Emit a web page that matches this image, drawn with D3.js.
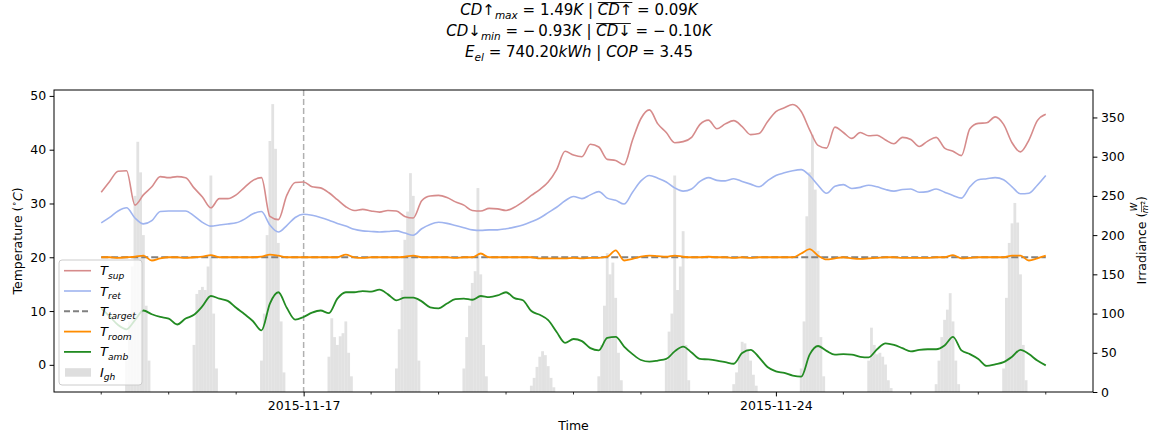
<!DOCTYPE html>
<html>
<head>
<meta charset="utf-8">
<script src="https://cdn.jsdelivr.net/npm/d3@7"></script>
<style>
  body { margin: 0; background: #fff; }
  text { font-family: "DejaVu Sans"; }
</style>
</head>
<body>
<script>
// ---- data (3-hourly samples from 2015-11-14 00:00 to 2015-11-28 00:00) ----
var T_SUP = [32.1,34.1,36.0,36.1,29.7,31.6,33.1,35.0, 34.8,35.0,34.8,32.9,31.2,29.2,30.9,30.9,
  31.6,33.0,34.3,34.8,27.6,27.0,31.5,33.9, 34.0,33.1,32.9,32.0,30.7,29.4,28.7,28.9,
  28.6,28.4,28.7,28.6,27.6,27.3,30.5,31.4, 31.5,31.1,30.3,29.7,28.7,28.6,29.1,29.0,
  28.7,29.3,30.3,31.5,32.6,34.0,36.3,39.7, 39.0,38.7,41.0,40.5,38.2,38.0,37.2,41.8,
  45.8,47.4,44.8,43.2,41.3,41.5,42.3,44.7, 45.5,43.9,44.8,45.4,44.3,42.8,43.0,45.2,
  47.1,47.8,48.4,47.1,43.7,40.8,40.3,44.2, 43.2,42.1,43.2,42.6,42.7,41.8,41.1,42.3,
  41.9,40.6,41.6,42.3,40.3,39.7,38.9,43.9, 44.9,45.0,46.1,44.7,41.3,39.6,41.8,45.4,
  46.6];
var T_RET = [26.4,27.4,28.6,29.2,27.3,26.2,26.8,28.5, 28.6,28.6,28.6,27.7,26.5,25.8,26.0,26.2,
  26.4,27.1,28.1,28.5,26.0,24.7,25.9,27.4, 28.0,27.8,27.4,26.9,26.3,25.8,25.2,24.9,
  24.8,24.7,24.8,24.9,24.5,24.1,25.3,26.1, 26.5,26.3,25.9,25.5,25.1,25.0,25.1,25.1,
  25.3,25.6,26.0,26.6,27.3,28.3,29.3,30.5, 31.3,30.9,31.6,32.2,31.0,30.6,29.9,32.1,
  34.2,35.2,34.7,34.0,32.9,32.3,32.7,34.1, 34.8,34.3,34.2,34.6,34.1,33.6,33.1,34.2,
  35.2,35.7,36.1,36.3,35.2,33.4,31.9,33.2, 33.5,32.8,33.0,33.4,33.1,32.6,32.3,32.6,
  32.7,32.1,32.2,32.7,32.1,31.5,31.0,33.1, 34.4,34.6,34.8,34.4,33.1,31.8,31.9,33.4,
  35.2];
var T_TARGET = 20;
var T_ROOM = [20.0,20.0,19.9,20.0,20.1,20.3,19.4,19.8, 20.0,20.0,19.9,20.0,20.1,20.4,20.0,20.0,
  20.0,20.0,20.0,20.1,20.5,20.3,20.0,20.0, 20.0,20.0,20.0,20.0,20.0,20.5,20.0,19.9,
  20.0,20.0,20.0,20.0,20.1,20.3,20.0,20.0, 20.0,20.0,19.9,20.0,20.0,20.7,20.0,20.0,
  20.0,20.0,20.0,20.0,19.8,19.8,19.8,19.8, 19.9,19.8,19.9,19.9,20.1,21.3,19.4,19.7,
  20.1,20.3,20.2,20.1,20.3,20.1,20.0,20.0, 20.1,20.0,20.0,19.9,20.0,19.9,20.0,20.0,
  20.0,20.0,20.0,20.7,21.5,20.3,19.6,19.8, 20.0,19.8,19.7,19.8,19.9,20.0,20.0,19.9,
  19.9,19.9,19.9,20.0,20.0,20.4,19.8,19.9, 20.0,20.0,20.0,20.0,20.3,20.3,19.4,19.8,
  20.3];
var T_AMB = [10.5,9.0,7.4,6.6,8.3,10.1,9.4,8.9, 8.6,7.5,8.6,9.3,10.9,12.8,12.3,11.9,
  10.6,9.4,8.1,6.4,11.4,13.5,10.6,8.4, 8.9,9.7,10.1,9.6,12.3,13.5,13.5,13.7,
  13.6,14.0,13.1,12.0,12.5,12.5,11.8,10.7, 10.5,11.4,12.2,12.3,12.1,12.8,12.6,12.9,
  13.5,12.4,12.0,10.0,9.3,8.3,6.1,4.1, 4.8,4.4,3.1,2.7,5.0,5.2,3.4,2.0,
  0.9,0.6,0.8,1.1,2.5,3.4,2.3,1.1, 1.0,0.8,0.5,0.2,2.2,2.8,1.4,-0.4,
  -1.2,-1.5,-2.0,-2.2,1.9,3.5,2.6,1.9, 2.0,1.9,1.5,1.4,2.9,4.0,3.7,3.1,
  2.5,2.8,2.9,2.9,3.6,5.2,2.7,2.0, 1.1,-0.2,0.1,0.5,1.5,2.8,2.0,0.8,
  -0.1];

// global horizontal irradiance, hourly, per day (hours 9..17)
var IRR_HOURS = [9,10,11,12,13,14,15,16,17];
var IRR = [
  [40,90,160,250,319,280,200,110,40],
  [60,125,130,134,130,160,276,100,30],
  [40,100,200,320,367,310,190,90,25],
  [45,94,70,60,71,75,90,50,20],
  [30,80,130,194,230,279,250,120,40],
  [30,70,110,139,154,260,150,60,20],
  [8,18,32,45,52,47,33,18,6],
  [20,60,110,177,150,165,120,50,15],
  [40,77,100,276,130,160,205,60,15],
  [10,25,45,64,62,55,40,22,8],
  [30,90,224,280,328,258,180,70,20],
  [40,82,60,48,50,45,35,15,5],
  [10,40,70,92,105,126,90,40,10],
  [30,120,190,215,241,216,150,60,15]
];

var TEMP_TICKS = [0,10,20,30,40,50];
var IRR_TICKS = [0,50,100,150,200,250,300,350];
var X_MAJOR = ["2015-11-17","2015-11-24"];
var MARK_DAY = "2015-11-17";

// ---- layout ----
var W = 1156, H = 438;
var padL = 54, padR = 1093, padT = 90, padB = 392;
var DAY = 864e5, HOUR = 36e5;
var t0 = Date.UTC(2015, 10, 14);
var parse = d3.utcParse("%Y-%m-%d");

var svg = d3.select("body").append("svg").attr("width", W).attr("height", H);

var x = d3.scaleUtc().domain([new Date(t0 - 0.7 * DAY), new Date(t0 + 14.7 * DAY)]).range([padL, padR]);
var y = d3.scaleLinear().domain([-5.05, 51.1]).range([padB, padT]);
var y2 = d3.scaleLinear().domain([0, 385]).range([padB, padT]);

var times = T_SUP.map(function(d, i) { return new Date(t0 + i * 3 * HOUR); });

function rich(sel, parts, fs) {
  var shift = 0, idx = 0, overs = [];
  parts.forEach(function(p) {
    var ts = sel.append("tspan").text(p.t);
    if (p.i) ts.attr("font-style", "italic");
    var target = p.sub ? fs * 0.28 : p.sup ? -fs * 0.38 : 0;
    ts.attr("font-size", (p.sub || p.sup) ? fs * 0.7 : fs);
    if (target !== shift) { ts.attr("dy", target - shift); shift = target; }
    if (p.over) overs.push([idx, idx + p.t.length - 1]);
    idx += p.t.length;
  });
  return overs;
}

// ---- irradiance bars ----
var bars = [];
IRR.forEach(function(day, d) {
  day.forEach(function(v, k) {
    bars.push({ t: t0 + d * DAY + IRR_HOURS[k] * HOUR, v: v });
  });
});
var bw = x(new Date(t0 + HOUR)) - x(new Date(t0));
svg.append("g").selectAll("rect").data(bars).enter().append("rect")
  .attr("x", function(d) { return x(new Date(d.t)) - bw / 2; })
  .attr("y", function(d) { return y2(d.v); })
  .attr("width", bw)
  .attr("height", function(d) { return y2(0) - y2(d.v); })
  .attr("fill", "#d3d3d3")
  .attr("opacity", 0.65);

// ---- vertical marker ----
svg.append("line")
  .attr("x1", x(parse(MARK_DAY))).attr("x2", x(parse(MARK_DAY)))
  .attr("y1", padT).attr("y2", padB)
  .attr("stroke", "#b0b0b0").attr("stroke-width", 1.5).attr("stroke-dasharray", "6,3");

// ---- lines ----
var line = d3.line()
  .x(function(d, i) { return x(times[i]); })
  .y(function(d) { return y(d); })
  .curve(d3.curveMonotoneX);

svg.append("path").datum(T_SUP).attr("d", line)
  .attr("fill", "none").attr("stroke", "#d68b8b").attr("stroke-width", 1.6);
svg.append("path").datum(T_RET).attr("d", line)
  .attr("fill", "none").attr("stroke", "#9fb4ef").attr("stroke-width", 1.6);
svg.append("line")
  .attr("x1", x(times[0])).attr("x2", x(times[times.length - 1]))
  .attr("y1", y(T_TARGET)).attr("y2", y(T_TARGET))
  .attr("stroke", "#808080").attr("stroke-width", 2).attr("stroke-dasharray", "7,3");
svg.append("path").datum(T_ROOM).attr("d", line)
  .attr("fill", "none").attr("stroke", "#ff8c00").attr("stroke-width", 1.8);
svg.append("path").datum(T_AMB).attr("d", line)
  .attr("fill", "none").attr("stroke", "#228b22").attr("stroke-width", 1.8);

// ---- axes ----
var FS = 12.5;
function styleAxis(g) {
  g.attr("font-family", "DejaVu Sans").attr("font-size", FS);
  g.select(".domain").remove();
  g.selectAll(".tick line").attr("stroke", "#000").attr("stroke-width", 1);
  g.selectAll(".tick text").attr("fill", "#000");
}

var gx = svg.append("g").attr("transform", "translate(0," + padB + ")")
  .call(d3.axisBottom(x).tickValues(X_MAJOR.map(parse))
    .tickFormat(d3.utcFormat("%Y-%m-%d")).tickSize(4.4).tickPadding(4.5));
styleAxis(gx);
var minorDays = d3.utcDay.range(new Date(t0), new Date(t0 + 14.5 * DAY))
  .filter(function(d) { return X_MAJOR.indexOf(d3.utcFormat("%Y-%m-%d")(d)) < 0; });
svg.append("g").selectAll("line").data(minorDays).enter().append("line")
  .attr("x1", function(d) { return x(d); }).attr("x2", function(d) { return x(d); })
  .attr("y1", padB).attr("y2", padB + 2.5)
  .attr("stroke", "#000").attr("stroke-width", 0.8);

var gy = svg.append("g").attr("transform", "translate(" + padL + ",0)")
  .call(d3.axisLeft(y).tickValues(TEMP_TICKS).tickSize(4.4).tickPadding(3.5));
styleAxis(gy);
var gy2 = svg.append("g").attr("transform", "translate(" + padR + ",0)")
  .call(d3.axisRight(y2).tickValues(IRR_TICKS).tickSize(4.4).tickPadding(3.5));
styleAxis(gy2);

svg.append("rect").attr("x", padL).attr("y", padT)
  .attr("width", padR - padL).attr("height", padB - padT)
  .attr("fill", "none").attr("stroke", "#000").attr("stroke-width", 1);

// axis labels
svg.append("text").attr("x", (padL + padR) / 2).attr("y", 430)
  .attr("text-anchor", "middle").attr("font-size", FS).text("Time");

var tl = svg.append("text").attr("transform", "translate(22," + (padT + padB) / 2 + ") rotate(-90)")
  .attr("text-anchor", "middle").attr("font-size", FS);
rich(tl, [{ t: "Temperature (" }, { t: "\u2218", sup: true }, { t: "C", i: true }, { t: ")" }], FS);

var irrG = svg.append("g").attr("transform", "translate(1146," + (padT + padB) / 2 + ") rotate(-90)");
var irrMain = irrG.append("text").attr("font-size", FS).text("Irradiance (");
var mainW = irrMain.node().getComputedTextLength();
var fracW = 10;
var total = mainW + fracW + 5;
irrMain.attr("x", -total / 2);
var fx = -total / 2 + mainW + 0.5;
irrG.append("text").attr("x", fx + fracW / 2).attr("y", -9).attr("text-anchor", "middle")
  .attr("font-size", 8.5).attr("font-style", "italic").text("W");
irrG.append("line").attr("x1", fx).attr("x2", fx + fracW).attr("y1", -4.5).attr("y2", -4.5)
  .attr("stroke", "#000").attr("stroke-width", 0.6);
var m2 = irrG.append("text").attr("x", fx + fracW / 2).attr("y", 2).attr("text-anchor", "middle")
  .attr("font-size", 8.5);
rich(m2, [{ t: "m", i: true }, { t: "2", sup: true }], 8.5);
irrG.append("text").attr("x", fx + fracW + 1).attr("font-size", FS).text(")");

// ---- legend ----
var LEGEND = [
  { s: "T", sub: "sup", c: "#d68b8b", dash: null, w: 1.6 },
  { s: "T", sub: "ret", c: "#9fb4ef", dash: null, w: 1.6 },
  { s: "T", sub: "target", c: "#808080", dash: "6,3", w: 2 },
  { s: "T", sub: "room", c: "#ff8c00", dash: null, w: 1.8 },
  { s: "T", sub: "amb", c: "#228b22", dash: null, w: 1.8 },
  { s: "I", sub: "gh", bar: true }
];
var lg = svg.append("g");
lg.append("rect").attr("x", 59).attr("y", 260).attr("width", 83).attr("height", 125)
  .attr("rx", 3).attr("fill", "#fff").attr("fill-opacity", 0.8)
  .attr("stroke", "#cccccc").attr("stroke-width", 1);
LEGEND.forEach(function(e, i) {
  var cy = 270.7 + i * 20.3;
  if (e.bar) {
    lg.append("rect").attr("x", 65).attr("y", cy - 4).attr("width", 26).attr("height", 8.5)
      .attr("fill", "#d6d6d6").attr("opacity", 0.8);
  } else {
    lg.append("line").attr("x1", 64).attr("x2", 91).attr("y1", cy).attr("y2", cy)
      .attr("stroke", e.c).attr("stroke-width", e.w).attr("stroke-dasharray", e.dash);
  }
  var t = lg.append("text").attr("x", 100).attr("y", cy + 4.5).attr("font-size", 13);
  rich(t, [{ t: e.s, i: true }, { t: e.sub, i: true, sub: true }], 13);
});

// ---- title ----
var TFS = 15;
var TITLE = [
  [{ t: "CD\u2191", i: true }, { t: "max", i: true, sub: true }, { t: " = 1.49" }, { t: "K", i: true },
   { t: " | " }, { t: "CD\u2191", i: true, over: true }, { t: " = 0.09" }, { t: "K", i: true }],
  [{ t: "CD\u2193", i: true }, { t: "min", i: true, sub: true }, { t: " = \u2212\u20090.93" }, { t: "K", i: true },
   { t: " | " }, { t: "CD\u2193", i: true, over: true }, { t: " = \u2212\u20090.10" }, { t: "K", i: true }],
  [{ t: "E", i: true }, { t: "el", i: true, sub: true }, { t: " = 740.20" }, { t: "kWh", i: true },
   { t: " | " }, { t: "COP", i: true }, { t: " = 3.45" }]
];
var TITLE_Y = [15, 36, 56.5];
TITLE.forEach(function(parts, li) {
  var t = svg.append("text").attr("x", 579).attr("y", TITLE_Y[li])
    .attr("text-anchor", "middle").attr("font-size", TFS);
  var overs = rich(t, parts, TFS);
  overs.forEach(function(o) {
    var n = t.node();
    var a = n.getStartPositionOfChar(o[0]).x;
    var b = n.getEndPositionOfChar(o[1]).x;
    svg.append("line").attr("x1", a).attr("x2", b)
      .attr("y1", TITLE_Y[li] - 12.5).attr("y2", TITLE_Y[li] - 12.5)
      .attr("stroke", "#000").attr("stroke-width", 0.9);
  });
});
</script>
</body>
</html>
